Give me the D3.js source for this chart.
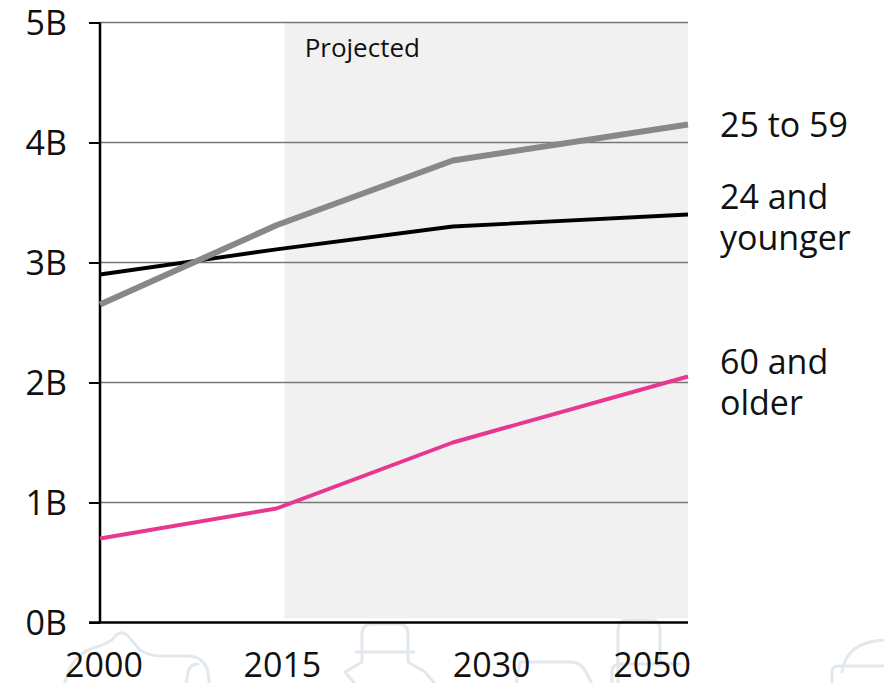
<!DOCTYPE html>
<html>
<head>
<meta charset="utf-8">
<script src="https://cdn.jsdelivr.net/npm/d3@7"></script>
<style>
  html, body { margin: 0; padding: 0; background: #fff; }
  svg { display: block; font-family: "Open Sans", "Noto Sans", sans-serif; }
</style>
</head>
<body>
<svg id="chart" width="884" height="683"></svg>
<script>
// World population by age group, billions
const years = [2000, 2015, 2030, 2050];
const age25to59 = [2.65, 3.31, 3.85, 4.15];
const age24younger = [2.90, 3.11, 3.30, 3.40];
const age60older = [0.70, 0.95, 1.50, 2.05];
const yTicks = [0, 1, 2, 3, 4, 5];
const yTickLabels = ["0B", "1B", "2B", "3B", "4B", "5B"];
const xTickLabels = ["2000", "2015", "2030", "2050"];
const seriesNames = [["25 to 59"], ["24 and", "younger"], ["60 and", "older"]];
const projectedFrom = 2015.7;
const projectedLabel = "Projected";

const svg = d3.select("#chart");
const x = d3.scaleLinear().domain([2000, 2050]).range([100, 688]);
const y = d3.scaleLinear().domain([0, 5]).range([622.5, 22.5]);

// faint decorative icons along the bottom edge
const deco = svg.append("g")
  .attr("fill", "none").attr("stroke", "#e2e8ed").attr("stroke-width", 3)
  .attr("stroke-linejoin", "round").attr("stroke-linecap", "round");
deco.append("path").attr("d",
  "M62,690 L70,668 Q80,650 100,646 L112,640 Q120,628 128,636 L140,650 Q150,656 160,656 L190,656 Q205,658 208,672 L210,690");
deco.append("path").attr("d", "M185,690 L188,672 Q190,664 198,664");
deco.append("path").attr("d",
  "M360,690 L345,672 L362,662 L362,634 Q362,624 372,624 L398,624 Q408,624 408,634 L408,662 L425,672 L440,690");
deco.append("path").attr("d", "M356,652 L414,652");
deco.append("path").attr("d", "M515,690 L520,662 L572,662 Q580,662 586,672 L595,690");
deco.append("path").attr("d",
  "M618,690 L618,630 Q618,620 628,620 L650,620 Q660,620 660,630 L660,665");
deco.append("path").attr("d", "M612,690 L612,672 Q612,664 620,664 L680,664");
deco.append("path").attr("d", "M842,672 Q846,642 884,640");
deco.append("path").attr("d", "M884,666 L838,666 Q832,666 832,672 L832,684 Q832,690 838,690");

// projected period shading
svg.append("rect")
  .attr("x", x(projectedFrom)).attr("y", y(5))
  .attr("width", x(2050) - x(projectedFrom)).attr("height", y(0) - 4 - y(5))
  .attr("fill", "#f1f1f1");

svg.append("text")
  .attr("x", x(projectedFrom) + 20).attr("y", 57)
  .attr("font-size", 26).attr("fill", "#111")
  .text(projectedLabel);

// horizontal gridlines
svg.append("g").selectAll("line").data(yTicks.slice(1)).join("line")
  .attr("x1", x(2000)).attr("x2", x(2050))
  .attr("y1", d => y(d)).attr("y2", d => y(d))
  .attr("stroke", "#777").attr("stroke-width", 1.5);

// y axis
const yAxis = d3.axisLeft(y).tickValues(yTicks)
  .tickFormat((d, i) => yTickLabels[i]).tickSize(11).tickPadding(22);
const gy = svg.append("g").attr("transform", `translate(${x(2000)},0)`).call(yAxis);
gy.select(".domain").remove();
gy.selectAll(".tick line").attr("stroke", "#000").attr("stroke-width", 2);
gy.selectAll(".tick text").attr("font-size", 34).attr("fill", "#111")
  .attr("font-family", "'Open Sans', sans-serif").attr("dy", "0.36em");

// axis lines
svg.append("line").attr("x1", x(2000)).attr("x2", x(2000))
  .attr("y1", y(5)).attr("y2", y(0)).attr("stroke", "#000").attr("stroke-width", 2.5);
svg.append("line").attr("x1", x(2000) - 11).attr("x2", x(2050))
  .attr("y1", y(0)).attr("y2", y(0)).attr("stroke", "#000").attr("stroke-width", 2.5);

// x labels
const xAnchors = ["middle", "middle", "start", "end"];
const xShift = [4, 6, 0, 3];
svg.append("g").selectAll("text").data(years).join("text")
  .attr("x", (d, i) => x(d) + xShift[i]).attr("y", 677)
  .attr("text-anchor", (d, i) => xAnchors[i])
  .attr("font-size", 34).attr("fill", "#111")
  .text((d, i) => xTickLabels[i]);

// series lines
const line = d3.line().x((d, i) => x(years[i])).y(d => y(d));
const series = [
  { values: age24younger, color: "#000", width: 3.8 },
  { values: age25to59, color: "#888", width: 6 },
  { values: age60older, color: "#e8378e", width: 4 }
];
svg.append("g").selectAll("path").data(series).join("path")
  .attr("d", d => line(d.values))
  .attr("fill", "none").attr("stroke", d => d.color)
  .attr("stroke-width", d => d.width).attr("stroke-linejoin", "round");

// series labels
const labelBaselines = [137, 209, 374];
const lbl = svg.append("g").attr("font-size", 34).attr("fill", "#111");
seriesNames.forEach((lines, i) => {
  const t = lbl.append("text").attr("x", 720).attr("y", labelBaselines[i]);
  lines.forEach((s, j) => t.append("tspan").attr("x", 720).attr("dy", j === 0 ? 0 : 41).text(s));
});
</script>
</body>
</html>
